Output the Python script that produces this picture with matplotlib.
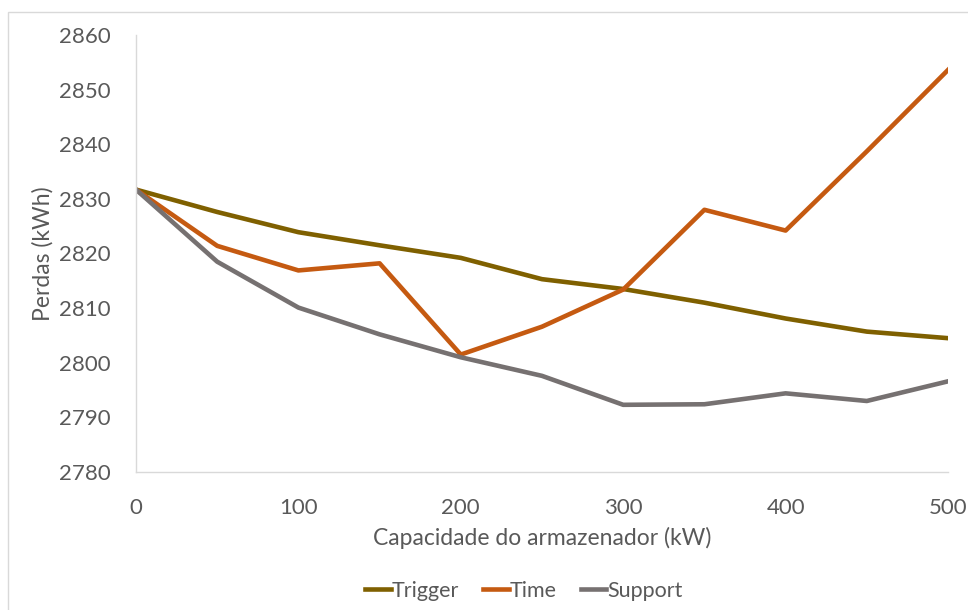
import matplotlib
matplotlib.use('Agg')
import matplotlib.pyplot as plt
from matplotlib.patches import Rectangle

plt.rcParams['font.family'] = ['Lato', 'DejaVu Sans']

capacidade = [0, 50, 100, 150, 200, 250, 300, 350, 400, 450, 500]
trigger = [2831.7, 2827.6, 2823.9, 2821.5, 2819.2, 2815.3, 2813.5, 2811.0, 2808.1, 2805.7, 2804.5]
time_ = [2831.7, 2821.4, 2816.9, 2818.2, 2801.5, 2806.6, 2813.4, 2828.0, 2824.2, 2838.7, 2853.6]
support = [2831.7, 2818.5, 2810.1, 2805.2, 2801.0, 2797.6, 2792.3, 2792.4, 2794.4, 2793.0, 2796.6]

cor_texto = '#595959'

fig = plt.figure(figsize=(9.68, 6.10), dpi=100)
# moldura do grafico (estilo excel)
fig.patches.append(Rectangle((8/968, -0.05), 1.0, 1.05 - 12/610, transform=fig.transFigure,
                             fill=False, edgecolor='#D9D9D9', linewidth=1))

ax = fig.add_axes([136/968, 1 - 472/610, (948 - 136)/968, (472 - 35)/610])
ax.plot(capacidade, trigger, color='#7F6000', linewidth=3.3, label='Trigger')
ax.plot(capacidade, time_, color='#C55A11', linewidth=3.3, label='Time')
ax.plot(capacidade, support, color='#767171', linewidth=3.3, label='Support')

ax.set_xlim(0, 500)
ax.set_ylim(2780, 2860)
ax.set_xticks(range(0, 501, 100))
ax.set_yticks(range(2780, 2861, 10))
for s in ['top', 'right']:
    ax.spines[s].set_visible(False)
for s in ['left', 'bottom']:
    ax.spines[s].set_color('#D9D9D9')
    ax.spines[s].set_linewidth(1)
ax.tick_params(length=0, labelsize=16, labelcolor=cor_texto)
ax.tick_params(axis='y', pad=18)
ax.tick_params(axis='x', pad=19)

ax.set_xlabel('Capacidade do armazenador (kW)', fontsize=16.5, color=cor_texto, labelpad=6)
ax.set_ylabel('Perdas (kWh)', fontsize=16.5, color=cor_texto, labelpad=4)

fig.legend(loc='center', bbox_to_anchor=(524/968, 1 - 591/610), ncol=3, frameon=False,
           fontsize=15.5, labelcolor=cor_texto, handlelength=1.2, handletextpad=0.05,
           columnspacing=1.1)

plt.savefig('out.png', dpi=100)
